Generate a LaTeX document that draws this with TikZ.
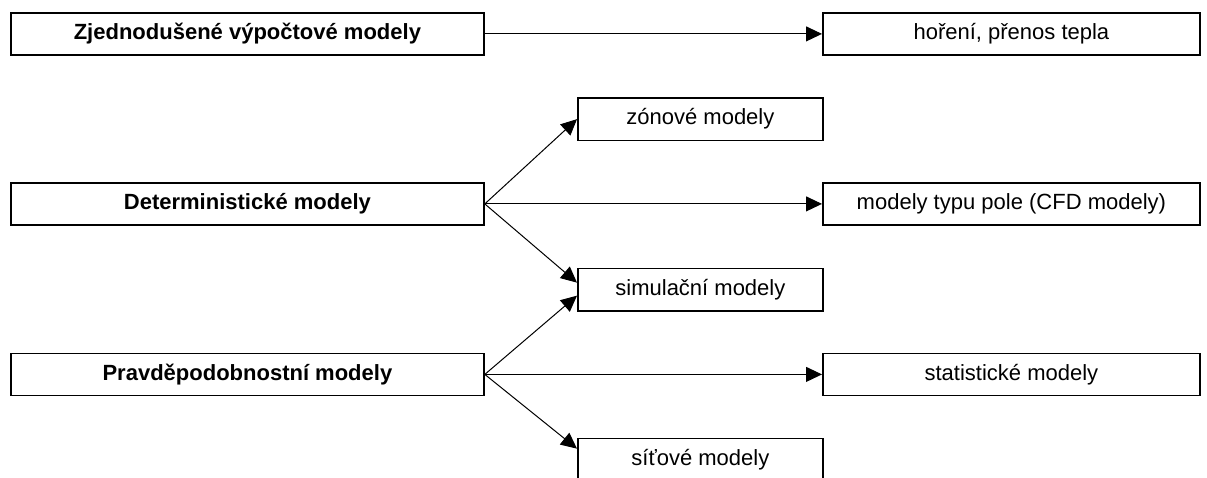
\documentclass[tikz,border=0pt]{standalone}
\usepackage{fontspec}
\setmainfont{Liberation Sans}
\usetikzlibrary{arrows.meta,calc}
\begin{document}
\begin{tikzpicture}[x=1pt,y=-1pt,
  box/.style={draw, line width=1.8pt, inner sep=0pt, anchor=north west, align=center,
    font=\fontsize{22}{26}\selectfont},
  lbox/.style={box, minimum width=473pt, minimum height=42pt, font=\fontsize{22}{26}\selectfont\bfseries},
  mbox/.style={box, minimum width=245pt, minimum height=42.5pt},
  rbox/.style={box, minimum width=377pt, minimum height=42pt},
  arr/.style={line width=1pt, -{Triangle[length=16pt,width=15pt]}}]
\useasboundingbox (0,0) rectangle (1207,477);
\node[lbox] (z1) at (10,12) {Zjednodušené výpočtové modely};
\node[rbox] (z2) at (822,12) {hoření, přenos tepla};
\node[lbox] (d1) at (10,182) {Deterministické modely};
\node[mbox] (zon) at (577,97) {zónové modely};
\node[rbox] (cfd) at (822,182) {modely typu pole (CFD modely)};
\node[mbox] (sim) at (577,267.5) {simulační modely};
\node[lbox] (p1) at (10,352.5) {Pravděpodobnostní modely};
\node[rbox] (stat) at (822,352.5) {statistické modely};
\node[mbox] (sit) at (577,437.5) {síťové modely};
\coordinate (simA) at ($(sim.west)+(0,-7)$);
\coordinate (simB) at ($(sim.west)+(0,6)$);
\coordinate (sitA) at ($(sit.west)+(0,-11)$);
\draw[arr] (z1.east) -- (z2.west);
\draw[arr] (d1.east) -- (zon.west);
\draw[arr] (d1.east) -- (cfd.west);
\draw[arr] (d1.east) -- (simA);
\draw[arr] (p1.east) -- (simB);
\draw[arr] (p1.east) -- (stat.west);
\draw[arr] (p1.east) -- (sitA);
\end{tikzpicture}
\end{document}
